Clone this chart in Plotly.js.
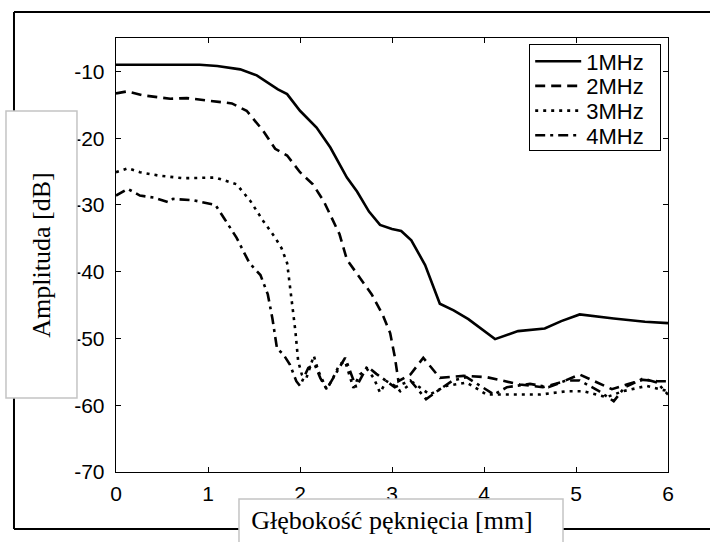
<!DOCTYPE html>
<html>
<head>
<meta charset="utf-8">
<script src="https://cdn.plot.ly/plotly-3.0.1.min.js"></script>
<style>html,body{margin:0;padding:0;background:#fff;}#chart{width:710px;height:542px;}</style>
</head>
<body>
<div id="chart"></div>
<script>
// ---- data ----
const seriesNames = ["1MHz", "2MHz", "3MHz", "4MHz"];

const x1 = [0, 0.5, 0.91, 1.1, 1.35, 1.53, 1.67, 1.76, 1.86, 2.0, 2.18, 2.33, 2.51, 2.62, 2.75, 2.87, 3.0, 3.1, 3.21, 3.36, 3.52, 3.67, 3.83, 4.12, 4.37, 4.66, 4.84, 5.04, 5.41, 5.75, 6.0];
const y1 = [-9.0, -9.0, -9.0, -9.2, -9.7, -10.6, -11.9, -12.7, -13.4, -15.9, -18.4, -21.4, -25.9, -28.0, -31.0, -33.0, -33.6, -33.9, -35.3, -39.0, -44.8, -45.8, -47.1, -50.1, -48.9, -48.5, -47.4, -46.4, -47.0, -47.5, -47.7];

const x2 = [0, 0.12, 0.3, 0.59, 0.77, 1.06, 1.26, 1.42, 1.6, 1.73, 1.86, 2.0, 2.14, 2.26, 2.43, 2.51, 2.66, 2.78, 2.9, 2.98, 3.03, 3.07, 3.2, 3.34, 3.52, 3.78, 4.03, 4.21, 4.39, 4.64, 4.83, 5.04, 5.23, 5.39, 5.55, 5.73, 5.88, 6.0];
const y2 = [-13.3, -13.0, -13.6, -14.1, -14.0, -14.5, -14.8, -15.9, -18.9, -21.6, -22.6, -25.1, -26.9, -29.5, -34.4, -38.2, -41.0, -43.4, -46.5, -49.2, -52.7, -56.4, -55.4, -52.9, -55.9, -55.6, -55.8, -56.4, -56.9, -57.3, -56.6, -55.4, -56.6, -57.6, -56.9, -56.2, -56.4, -56.4];

const x3 = [0, 0.13, 0.26, 0.46, 0.73, 1.08, 1.31, 1.46, 1.6, 1.73, 1.8, 1.86, 1.89, 1.95, 1.98, 2.02, 2.07, 2.15, 2.2, 2.29, 2.36, 2.43, 2.49, 2.58, 2.65, 2.73, 2.8, 2.87, 2.94, 3.03, 3.09, 3.23, 3.41, 3.59, 3.81, 4.03, 4.32, 4.61, 4.9, 5.08, 5.33, 5.51, 5.77, 6.0];
const y3 = [-25.1, -24.5, -25.1, -25.6, -26.0, -25.9, -26.9, -29.4, -32.4, -34.9, -36.5, -38.7, -42.1, -48.9, -53.4, -55.4, -55.9, -52.6, -54.9, -57.6, -55.9, -53.9, -53.4, -57.4, -55.4, -54.6, -55.9, -58.1, -56.4, -57.1, -57.9, -56.6, -58.4, -57.1, -56.6, -58.4, -58.4, -58.4, -57.9, -57.9, -58.8, -57.9, -57.1, -57.9];

const x4 = [0, 0.13, 0.26, 0.41, 0.57, 0.62, 0.84, 1.08, 1.18, 1.31, 1.45, 1.57, 1.65, 1.7, 1.75, 1.82, 1.89, 1.96, 2.0, 2.09, 2.16, 2.22, 2.29, 2.43, 2.49, 2.61, 2.73, 2.83, 3.03, 3.2, 3.37, 3.49, 3.66, 3.81, 3.96, 4.11, 4.25, 4.5, 4.7, 4.89, 5.04, 5.24, 5.41, 5.53, 5.73, 5.88, 6.0];
const y4 = [-28.6, -27.6, -28.6, -28.9, -29.6, -29.1, -29.3, -30.0, -32.1, -34.9, -38.7, -40.5, -43.4, -47.0, -51.5, -52.4, -53.9, -56.4, -57.1, -54.4, -53.9, -55.9, -57.6, -54.2, -52.9, -57.3, -54.2, -55.3, -57.3, -56.3, -59.1, -57.9, -56.3, -55.8, -57.1, -58.4, -57.3, -56.8, -57.3, -56.3, -56.3, -57.8, -59.4, -57.3, -56.0, -56.6, -58.4];

const xTicks = [0, 1, 2, 3, 4, 5, 6];
const yTicks = [-70, -60, -50, -40, -30, -20, -10];
const xTitle = "Głębokość pęknięcia [mm]";
const yTitle = "Amplituda [dB]";

// ---- styling ----
const dashes = ["solid", "10px,6px", "3px,5px", "10px,5px,3px,5px"];
const xs = [x1, x2, x3, x4];
const ys = [y1, y2, y3, y4];

const traces = seriesNames.map((n, i) => ({
  x: xs[i], y: ys[i], name: n, type: "scatter", mode: "lines",
  line: { color: "#000", width: 2.6, dash: dashes[i] }
}));

const sans = "Liberation Sans, Arial, Helvetica, sans-serif";
const serif = "Liberation Serif, Times New Roman, serif";

const layout = {
  width: 710, height: 542,
  margin: { l: 116, r: 42, t: 38, b: 70, pad: 0 },
  paper_bgcolor: "#fff", plot_bgcolor: "#fff",
  showlegend: true,
  legend: {
    x: 0.748, y: 0.986, xanchor: "left", yanchor: "top",
    bgcolor: "#fff", bordercolor: "#000", borderwidth: 1.3,
    font: { family: sans, size: 22, color: "#000" },
    itemwidth: 46, tracegroupgap: 0
  },
  xaxis: {
    range: [0, 6], tickvals: xTicks, ticktext: xTicks.map(String),
    ticks: "inside", ticklen: 5, tickwidth: 1, tickcolor: "#000",
    showline: true, linecolor: "#000", linewidth: 1.3, mirror: "ticks",
    showgrid: false, zeroline: false,
    tickfont: { family: sans, size: 21, color: "#000" },
    ticklabelstandoff: 2,
    title: { text: xTitle, font: { family: serif, size: 26, color: "#000" }, standoff: 7 }
  },
  yaxis: {
    range: [-70, -5], tickvals: yTicks, ticktext: yTicks.map(String),
    ticks: "inside", ticklen: 5, tickwidth: 1, tickcolor: "#000",
    showline: true, linecolor: "#000", linewidth: 1.3, mirror: "ticks",
    showgrid: false, zeroline: false,
    tickfont: { family: sans, size: 21, color: "#000" },
    ticklabelstandoff: 6,
    title: { text: yTitle, font: { family: serif, size: 26, color: "#000" }, standoff: 16 }
  },
  shapes: [
    // outer frame (top, left, bottom)
    { type: "line", xref: "paper", yref: "paper", x0: -0.1848, x1: 1.08, y0: 1.06, y1: 1.06, line: { color: "#000", width: 2 }, layer: "below" },
    { type: "line", xref: "paper", yref: "paper", x0: -0.1848, x1: -0.1848, y0: 1.06, y1: -0.1313, line: { color: "#000", width: 2 }, layer: "below" },
    { type: "line", xref: "paper", yref: "paper", x0: -0.1848, x1: 1.08, y0: -0.1313, y1: -0.1313, line: { color: "#000", width: 2 }, layer: "below" },
    // label boxes
    { type: "rect", xref: "paper", yref: "paper", x0: -0.1993, x1: -0.0707, y0: 0.1705, y1: 0.8318, fillcolor: "#fff", line: { color: "#c4c4c4", width: 1.5 }, layer: "above" },
    { type: "rect", xref: "paper", yref: "paper", x0: 0.2228, x1: 0.8098, y0: -0.0622, y1: -0.175, fillcolor: "#fff", line: { color: "#c4c4c4", width: 1.5 }, layer: "above" }
  ]
};

const gd = document.getElementById("chart");
Plotly.newPlot(gd, traces, layout, { displayModeBar: false, staticPlot: true }).then(() => {
  // tighten legend row spacing to match the compact MATLAB legend
  const items = Array.from(gd.querySelectorAll(".legend .traces"));
  const pos = items.map(el => {
    const m = /translate\(\s*([-\d.]+)[ ,]+([-\d.]+)/.exec(el.getAttribute("transform") || "");
    return m ? [parseFloat(m[1]), parseFloat(m[2])] : [0, 0];
  });
  if (items.length > 1) {
    const s = pos[1][1] - pos[0][1];
    const target = 24.7;
    const shiftUp = 5;
    items.forEach((el, i) => el.setAttribute("transform", "translate(" + pos[i][0] + "," + (pos[0][1] - shiftUp + i * target) + ")"));
    const bg = gd.querySelector(".legend rect.bg");
    if (bg) {
      const h = parseFloat(bg.getAttribute("height"));
      bg.setAttribute("height", h - (items.length - 1) * (s - target) - 11);
      const w = parseFloat(bg.getAttribute("width"));
      bg.setAttribute("width", w + 10);
    }
  }
});
</script>
</body>
</html>
